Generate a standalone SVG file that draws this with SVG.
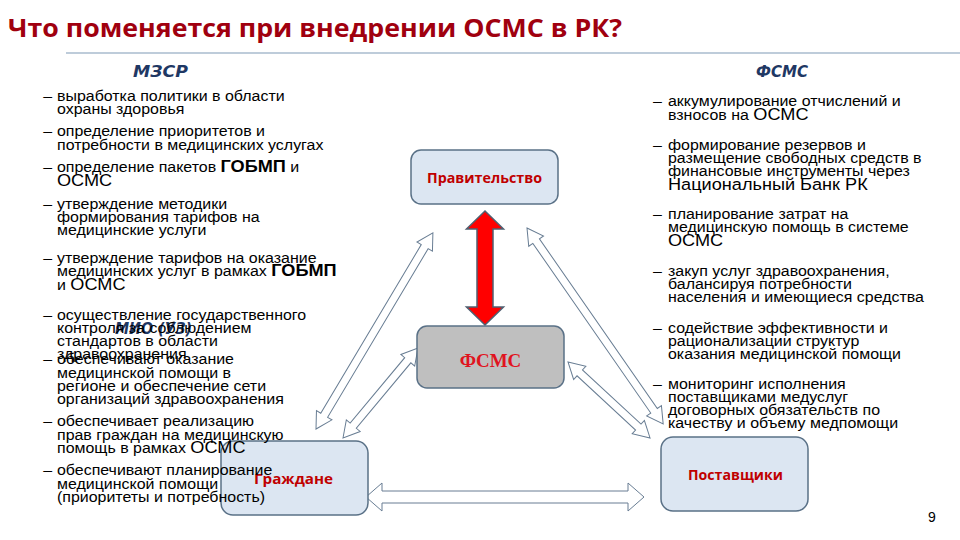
<svg xmlns="http://www.w3.org/2000/svg" width="960" height="540" viewBox="0 0 960 540">
<style>
.box{stroke:#5A7187;stroke-width:1.5}
.blue{fill:#DCE6F2}
.gray{fill:#BFBFBF}
.lbl{font-family:"Open Sans","Liberation Sans",sans-serif;font-weight:bold;fill:#C00000;text-anchor:middle}
.hdr{font-family:"DejaVu Sans","Liberation Sans",sans-serif;font-weight:bold;font-style:italic;fill:#1F3864}
.arr{fill:#FFFFFF;stroke:#687D93;stroke-width:1}
.body{font-family:"Liberation Sans",Arial,sans-serif;font-size:14.5px;fill:#000}
.big{font-size:16.5px}
.bb{font-size:16.5px;font-weight:bold}
</style>
<rect width="960" height="540" fill="#FFFFFF"/>
<text x="8" y="37" font-family="'Open Sans','Liberation Sans',sans-serif" font-weight="bold" font-size="25" fill="#A0000F" textLength="614" lengthAdjust="spacingAndGlyphs">Что поменяется при внедрении ОСМС в РК?</text>
<line x1="66" y1="53" x2="960" y2="53" stroke="#7E9AB5" stroke-width="1.2"/>

<g id="connectors">
<polygon class="arr" transform="translate(316,429) rotate(-59.2)" points="0,0 16,-9 16,-4 212.3,-4 212.3,-9 228.3,0 212.3,9 212.3,4 16,4 16,9"/>
<polygon class="arr" transform="translate(343,438) rotate(-50.2)" points="0,0 16,-9 16,-4 101.2,-4 101.2,-9 117.2,0 101.2,9 101.2,4 16,4 16,9"/>
<polygon class="arr" transform="translate(527,228) rotate(55.2)" points="0,0 16,-9 16,-4 222.6,-4 222.6,-9 238.6,0 222.6,9 222.6,4 16,4 16,9"/>
<polygon class="arr" transform="translate(568,362) rotate(42.8)" points="0,0 16,-9 16,-4 95.8,-4 95.8,-9 111.8,0 95.8,9 95.8,4 16,4 16,9"/>
<polygon class="arr" stroke="#5A7187" stroke-width="1.5" points="366,497 382,483 382,491 628,491 628,483 644,497 628,511 628,503 382,503 382,511"/>
<polygon fill="#FF0000" stroke="#4F6071" stroke-width="1.5" points="485,211 503.5,229 493,229 493,307 503.5,307 485,325 466.5,307 477,307 477,229 466.5,229"/>
</g>

<g id="node-government">
<rect class="box blue" x="411" y="150" width="147" height="54" rx="10"/>
<text class="lbl" x="484.5" y="183" font-size="15" textLength="115" lengthAdjust="spacingAndGlyphs">Правительство</text>
</g>
<g id="node-fsms">
<rect class="box gray" x="417" y="326" width="147" height="62" rx="10"/>
<text x="490.5" y="367" font-family="'Liberation Serif','Times New Roman',serif" font-weight="bold" font-size="19" fill="#E0141E" text-anchor="middle">ФСМС</text>
</g>
<g id="node-citizens">
<rect class="box blue" x="221" y="441" width="147" height="74" rx="12"/>
<text class="lbl" x="293.5" y="484" font-size="15" textLength="79" lengthAdjust="spacingAndGlyphs">Граждане</text>
</g>
<g id="node-providers">
<rect class="box blue" x="661" y="437" width="147" height="74" rx="12"/>
<text class="lbl" x="735.5" y="480" font-size="15" textLength="95" lengthAdjust="spacingAndGlyphs">Поставщики</text>
</g>

<g id="headers">
<text class="hdr" x="133" y="77" font-size="15" textLength="55" lengthAdjust="spacingAndGlyphs">МЗСР</text>
<text class="hdr" x="756" y="77" font-size="15" textLength="52" lengthAdjust="spacingAndGlyphs">ФСМС</text>
<text class="hdr" x="115" y="334" font-size="16.5" textLength="77" lengthAdjust="spacingAndGlyphs">МИО (УЗ)</text>
</g>

<g id="left-list" class="body" transform="translate(57,0) scale(1.1,1)">
<text x="-12.5" y="101">–</text>
<text x="0" y="101">выработка политики в области</text>
<text x="0" y="114">охраны здоровья</text>
<text x="-12.5" y="136">–</text>
<text x="0" y="136">определение приоритетов и</text>
<text x="0" y="150">потребности в медицинских услугах</text>
<text x="-12.5" y="172">–</text>
<text x="0" y="172">определение пакетов <tspan class="bb">ГОБМП</tspan> и</text>
<text x="0" y="186" class="big">ОСМС</text>
<text x="-12.5" y="209">–</text>
<text x="0" y="209">утверждение методики</text>
<text x="0" y="222">формирования тарифов на</text>
<text x="0" y="235">медицинские услуги</text>
<text x="-12.5" y="263">–</text>
<text x="0" y="263">утверждение тарифов на оказание</text>
<text x="0" y="276">медицинских услуг в рамках <tspan class="bb">ГОБМП</tspan></text>
<text x="0" y="290">и <tspan class="big">ОСМС</tspan></text>
<text x="-12.5" y="320">–</text>
<text x="0" y="320">осуществление государственного</text>
<text x="0" y="333">контроля за соблюдением</text>
<text x="0" y="346">стандартов в области</text>
<text x="0" y="359">здравоохранения</text>
<text x="-12.5" y="364">–</text>
<text x="0" y="364">обеспечивают оказание</text>
<text x="0" y="378">медицинской помощи в</text>
<text x="0" y="391">регионе и обеспечение сети</text>
<text x="0" y="404">организаций здравоохранения</text>
<text x="-12.5" y="426">–</text>
<text x="0" y="426">обеспечивает реализацию</text>
<text x="0" y="440">прав граждан на медицинскую</text>
<text x="0" y="453">помощь в рамках <tspan class="big">ОСМС</tspan></text>
<text x="-12.5" y="475">–</text>
<text x="0" y="475">обеспечивают планирование</text>
<text x="0" y="489">медицинской помощи</text>
<text x="0" y="502">(приоритеты и потребность)</text>
</g>

<g id="right-list" class="body" transform="translate(668,0) scale(1.1,1)">
<text x="-13.6" y="106">–</text>
<text x="0" y="106">аккумулирование отчислений и</text>
<text x="0" y="120">взносов на <tspan class="big">ОСМС</tspan></text>
<text x="-13.6" y="150">–</text>
<text x="0" y="150">формирование резервов и</text>
<text x="0" y="163">размещение свободных средств в</text>
<text x="0" y="176">финансовые инструменты через</text>
<text x="0" y="190" class="big">Национальный Банк РК</text>
<text x="-13.6" y="219">–</text>
<text x="0" y="219">планирование затрат на</text>
<text x="0" y="232">медицинскую помощь в системе</text>
<text x="0" y="246" class="big">ОСМС</text>
<text x="-13.6" y="276">–</text>
<text x="0" y="276">закуп услуг здравоохранения,</text>
<text x="0" y="289">балансируя потребности</text>
<text x="0" y="302">населения и имеющиеся средства</text>
<text x="-13.6" y="333">–</text>
<text x="0" y="333">содействие эффективности и</text>
<text x="0" y="346">рационализации структур</text>
<text x="0" y="359">оказания медицинской помощи</text>
<text x="-13.6" y="389">–</text>
<text x="0" y="389">мониторинг исполнения</text>
<text x="0" y="402">поставщиками медуслуг</text>
<text x="0" y="415">договорных обязательств по</text>
<text x="0" y="428">качеству и объему медпомощи</text>
</g>

<text x="928" y="522" font-family="'Liberation Sans',Arial,sans-serif" font-size="14" fill="#000">9</text>
</svg>
